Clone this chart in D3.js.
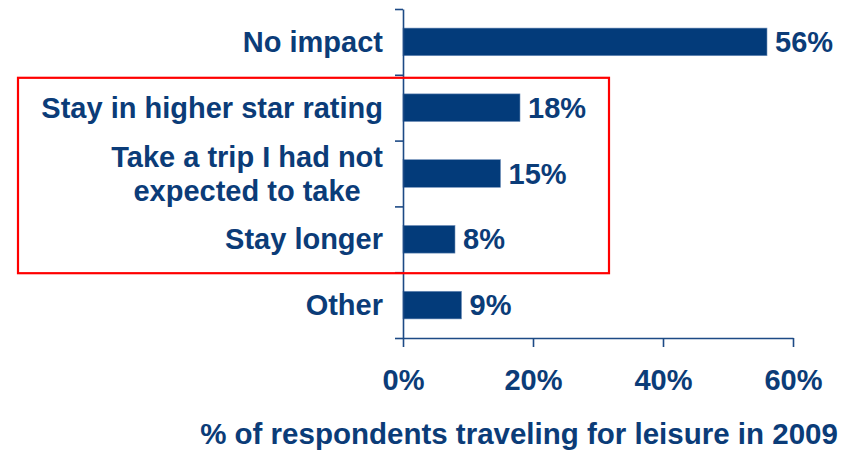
<!DOCTYPE html>
<html>
<head>
<meta charset="utf-8">
<script src="https://cdn.jsdelivr.net/npm/d3@7"></script>
<style>
  body { margin: 0; background: #fff; }
  svg text { font-family: "Liberation Sans", Arial, sans-serif; font-weight: bold; fill: #0b3c78; }
</style>
</head>
<body>
<script>
const categories = ["No impact", "Stay in higher star rating", "Take a trip I had not|expected to take", "Stay longer", "Other"];
const values = [56, 18, 15, 8, 9];
const tickValues = [0, 20, 40, 60];
const tickLabels = ["0%", "20%", "40%", "60%"];
const highlighted = ["Stay in higher star rating", "Take a trip I had not|expected to take", "Stay longer"];
const axisTitle = "% of respondents traveling for leisure in 2009";

const W = 854, H = 451;
const margin = { left: 403, top: 9 };
const plotW = 390, plotH = 329;
const barColor = "#033b7a", axisColor = "#1d4a85";

const svg = d3.select("body").append("svg")
    .attr("width", W)
    .attr("height", H);

const g = svg.append("g")
    .attr("transform", "translate(" + margin.left + "," + margin.top + ")");

const x = d3.scaleLinear().domain([0, 60]).range([0, plotW]);
const y = d3.scaleBand().domain(categories).range([0, plotH])
    .paddingInner(0.58).paddingOuter(0.29);
// band boundaries for the left ticks
const yb = d3.scaleLinear().domain([0, categories.length]).range([0, plotH]);

// highlight box around the middle categories
const hTop = yb(categories.indexOf(highlighted[0])) + 3;
const hBot = yb(categories.indexOf(highlighted[highlighted.length - 1]) + 1) + 1;
svg.append("rect")
    .attr("x", 18)
    .attr("y", margin.top + hTop)
    .attr("width", 591)
    .attr("height", hBot - hTop)
    .attr("fill", "none")
    .attr("stroke", "#ff0000")
    .attr("stroke-width", 2.2);

// bars
g.selectAll(".bar")
    .data(values)
    .enter().append("rect")
    .attr("class", "bar")
    .attr("x", 0)
    .attr("y", (d, i) => y(categories[i]))
    .attr("width", d => x(d))
    .attr("height", y.bandwidth())
    .attr("fill", barColor)
    .attr("stroke", "#6f8fba")
    .attr("stroke-width", 0.6);

// value labels
g.selectAll(".val")
    .data(values)
    .enter().append("text")
    .attr("class", "val")
    .attr("x", d => x(d) + 8)
    .attr("y", (d, i) => y(categories[i]) + y.bandwidth() / 2)
    .attr("dy", "0.35em")
    .style("font-size", "29px")
    .text(d => d + "%");

// y axis (ticks at band boundaries)
const yAxis = g.append("g")
    .call(d3.axisLeft(yb).tickValues(d3.range(categories.length + 1)).tickSize(8).tickSizeOuter(0).tickFormat(""));
yAxis.selectAll("path, line").attr("stroke", axisColor).attr("stroke-width", 1.6);

// x axis
const xAxis = g.append("g")
    .attr("transform", "translate(0," + plotH + ")")
    .call(d3.axisBottom(x).tickValues(tickValues).tickSize(9).tickSizeOuter(0)
        .tickFormat((d, i) => tickLabels[i]));
xAxis.selectAll("path, line").attr("stroke", axisColor).attr("stroke-width", 1.6);
xAxis.selectAll("text")
    .attr("y", 52)
    .attr("dy", 0)
    .attr("fill", null)
    .style("font-size", "29px");
xAxis.attr("font-family", null).attr("font-size", null);

// category labels
const cat = g.selectAll(".cat")
    .data(categories)
    .enter().append("text")
    .attr("class", "cat")
    .attr("y", d => y(d) + y.bandwidth() / 2)
    .style("font-size", "29px")
    .attr("text-anchor", "end");

cat.each(function (d) {
    const lines = d.split("|");
    const t = d3.select(this);
    if (lines.length === 1) {
        t.append("tspan").attr("x", -20).attr("dy", "0.35em").text(d);
    } else {
        const first = t.append("tspan").attr("x", -20).attr("dy", -7).text(lines[0]);
        const w = first.node().getComputedTextLength();
        t.append("tspan")
            .attr("x", -20 - w / 2)
            .attr("dy", 34)
            .attr("text-anchor", "middle")
            .text(lines[1]);
    }
});

// axis title
svg.append("text")
    .attr("x", 519)
    .attr("y", 444)
    .attr("text-anchor", "middle")
    .style("font-size", "29.5px")
    .text(axisTitle);
</script>
</body>
</html>
